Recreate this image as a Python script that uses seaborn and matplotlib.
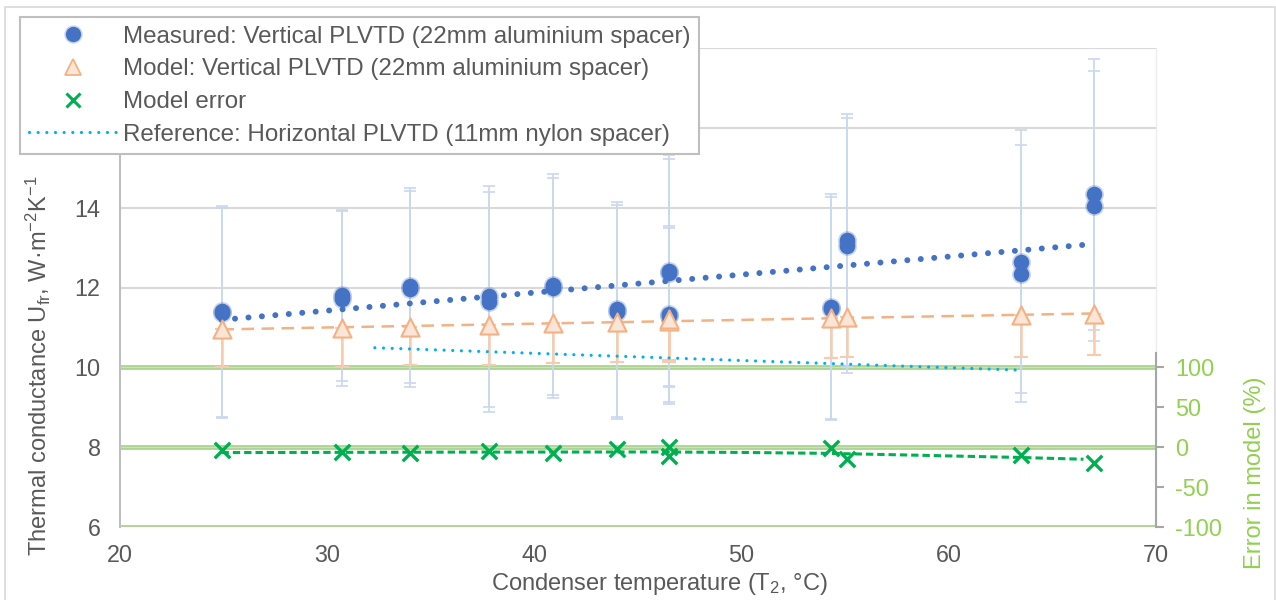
"""Thermal conductance vs condenser temperature, measured vs model, with model error on a second axis."""
import matplotlib
matplotlib.use('Agg')
import matplotlib.pyplot as plt
import pandas as pd
import seaborn as sns
from matplotlib.lines import Line2D
from matplotlib.patches import Rectangle

# Measured points (two or more repeats per temperature) and their error bars
meas_T = [24.9, 24.9, 30.7, 30.7, 34.0, 34.0, 37.8, 37.8, 40.9, 40.9, 44.0, 44.0,
          46.5, 46.5, 46.5, 46.5, 54.3, 54.3, 55.1, 55.1, 63.5, 63.5, 67.0, 67.0]
meas_U = [11.40, 11.36, 11.80, 11.72, 12.05, 11.96, 11.78, 11.64, 12.07, 11.99, 11.45, 11.38,
          12.42, 12.36, 11.33, 11.29, 11.52, 11.47, 13.18, 13.05, 12.65, 12.34, 14.33, 14.05]
meas_err = [2.65, 2.62, 2.15, 2.20, 2.45, 2.45, 2.77, 2.76, 2.77, 2.75, 2.70, 2.68,
            2.90, 2.86, 2.20, 2.20, 2.82, 2.80, 3.17, 3.20, 3.30, 3.22, 3.40, 3.38]

# Model points and their (lower only) error bars
model_T = [24.9, 30.7, 34.0, 37.8, 40.9, 44.0, 46.5, 46.5, 54.3, 55.1, 63.5, 67.0]
model_U = [10.95, 10.99, 11.02, 11.07, 11.10, 11.14, 11.16, 11.20, 11.24, 11.25, 11.30, 11.34]
model_err_low = [0.95, 0.99, 0.97, 1.00, 1.00, 1.01, 1.02, 1.02, 1.00, 1.00, 1.05, 1.02]
model_err_high = [0, 0, 0, 0, 0, 0, 0, 0, 0, 0, 0, 0]

# Model error (%)
err_T = [24.9, 30.7, 34.0, 37.8, 40.9, 44.0, 46.5, 46.5, 54.3, 55.1, 63.5, 67.0]
err_pct = [-3.75, -6.25, -8.0, -5.0, -8.0, -2.5, 0.4, -11.3, -1.7, -15.4, -10.0, -20.4]

# Trend lines
meas_trend_T = [24.9, 67.0]
meas_trend_U = [11.19, 13.09]
model_trend_T = [24.9, 67.0]
model_trend_U = [10.95, 11.35]
ref_T = [32.3, 63.4]
ref_U = [10.49, 9.93]
err_trend_T = [24.9, 36.0, 46.0, 50.0, 54.3, 58.0, 63.3, 66.5]
err_trend_pct = [-7.0, -6.4, -6.2, -6.8, -8.0, -10.0, -13.0, -15.3]

labels = ['Measured: Vertical PLVTD (22mm aluminium spacer)',
          'Model: Vertical PLVTD (22mm aluminium spacer)',
          'Model error',
          'Reference: Horizontal PLVTD (11mm nylon spacer)']

GREY = '#595959'
BLUE = '#4472c4'
HALO = (0.27, 0.45, 0.77, 0.3)
ORANGE = '#f4b183'
ORANGE_FILL = '#fbe5d6'
GREEN = '#00b050'
AXGREEN = '#92d050'
CYAN = '#00b0f0'


def main():
    sns.set_theme(style='white')
    plt.rcParams['font.family'] = ['Liberation Sans', 'DejaVu Sans']
    plt.rcParams['mathtext.fontset'] = 'custom'
    plt.rcParams['mathtext.rm'] = 'Liberation Sans'
    plt.rcParams['mathtext.it'] = 'Liberation Sans:italic'
    plt.rcParams['mathtext.bf'] = 'Liberation Sans:bold'
    plt.rcParams['axes.unicode_minus'] = False

    meas = pd.DataFrame({'T': meas_T, 'U': meas_U})
    model = pd.DataFrame({'T': model_T, 'U': model_U})
    err = pd.DataFrame({'T': err_T, 'pct': err_pct})

    fig = plt.figure(figsize=(12.76, 6), dpi=100)
    ax = fig.add_axes([120 / 1276, 1 - 527 / 600, 1036 / 1276, 479 / 600])

    ax.set_xlim(20, 70)
    ax.set_ylim(6, 18)
    ax.set_xticks(range(20, 71, 10))
    ax.set_yticks(range(6, 19, 2))
    ax.set_yticklabels(['6', '8', '10', '12', '14', '', ''])
    ax.grid(axis='y', color='#d9d9d9', lw=1.5, zorder=0)
    ax.set_axisbelow(True)
    for s in ['top', 'bottom']:
        ax.spines[s].set_visible(False)
    ax.spines['left'].set_color('#bfbfbf')
    ax.spines['left'].set_linewidth(1.5)
    ax.spines['right'].set_color('#ececec')
    ax.spines['right'].set_linewidth(1.0)
    ax.tick_params(axis='both', length=0, labelsize=16.8, labelcolor=GREY)
    ax.tick_params(axis='x', pad=12)
    ax.tick_params(axis='y', pad=14)

    # secondary-axis gridlines (-100, 0, 100 line up with 6, 8, 10)
    for v in [6, 8, 10]:
        ax.axhline(v, color='#a9d18e', lw=3.4, zorder=1)
        ax.axhline(v, color='#c9e4b1', lw=1.0, zorder=1)

    # error bars
    ax.errorbar(meas_T, meas_U, yerr=meas_err, fmt='none', ecolor='#c9d7f0',
                elinewidth=1.2, capsize=4.5, capthick=1.2, zorder=2)
    ax.errorbar(model_T, model_U, yerr=[model_err_low, model_err_high], fmt='none',
                ecolor='#f8cbad', elinewidth=1.8, capsize=5, capthick=1.5, zorder=2.5)

    # trend lines
    sns.lineplot(x=meas_trend_T, y=meas_trend_U, ax=ax, color=BLUE, lw=4.3,
                 linestyle=(0, (0.01, 2.25)), dash_capstyle='round', zorder=3)
    sns.lineplot(x=model_trend_T, y=model_trend_U, ax=ax, color=ORANGE, lw=1.8,
                 linestyle=(0, (5, 3)), zorder=3)
    sns.lineplot(x=ref_T, y=ref_U, ax=ax, color=CYAN, lw=2.3,
                 linestyle=(0, (0.01, 2.7)), dash_capstyle='round', zorder=3)

    # points
    sns.scatterplot(data=meas, x='T', y='U', ax=ax, s=125, color=BLUE,
                    edgecolor=HALO, linewidth=2.4, zorder=4)
    sns.scatterplot(data=model, x='T', y='U', ax=ax, marker='^', s=170,
                    color=ORANGE_FILL, edgecolor=ORANGE, linewidth=1.5, zorder=4)

    ax.set_xlabel(r'Condenser temperature (T$_{\mathregular{2}}$, °C)', fontsize=17, color=GREY)
    ax.set_ylabel(r'Thermal conductance U$_{\mathregular{fr}}$, W·m$^{\mathregular{-2}}$K$^{\mathregular{-1}}$',
                  fontsize=17, color=GREY)
    ax.xaxis.set_label_coords(0.521, -0.118)
    ax.xaxis.label.set_va('center')
    ax.yaxis.set_label_coords(-0.079, 0.336)
    ax.yaxis.label.set_va('center')

    # secondary axis: model error
    ax2 = ax.twinx()
    ax2.set_ylim(-100, 498.75)
    ax2.set_yticks([-100, -50, 0, 50, 100])
    ax2.grid(False)
    for s in ['top', 'bottom', 'left']:
        ax2.spines[s].set_visible(False)
    ax2.spines['right'].set_color('#a6a6a6')
    ax2.spines['right'].set_linewidth(1.5)
    ax2.spines['right'].set_bounds(-100, 117)
    ax2.tick_params(axis='y', length=6, width=1.5, color='#a6a6a6', labelsize=16.8,
                    labelcolor=AXGREEN, pad=8)

    sns.lineplot(x=err_trend_T, y=err_trend_pct, ax=ax2, color=GREEN, lw=2.2,
                 linestyle=(0, (2.4, 1.3)), sort=False, zorder=3)
    sns.scatterplot(data=err, x='T', y='pct', ax=ax2, marker='x', s=125,
                    color=GREEN, linewidth=2.4, zorder=4)
    ax2.set_ylabel('Error in model (%)', fontsize=17, color=AXGREEN, rotation=90)
    ax2.yaxis.set_label_coords(1.0955, 0.113)
    ax2.yaxis.label.set_va('center')

    # legend
    handles = [
        Line2D([], [], ls='none', marker='o', ms=11, mfc=BLUE, mec=HALO, mew=2.2),
        Line2D([], [], ls='none', marker='^', ms=12, mfc=ORANGE_FILL, mec=ORANGE, mew=1.3),
        Line2D([], [], ls='none', marker='x', ms=10.5, mec=GREEN, mew=2.2),
        Line2D([], [], color=CYAN, lw=2.3, ls=(0, (0.01, 2.7)), dash_capstyle='round'),
    ]
    leg = fig.legend(handles, labels, loc='upper left',
                     bbox_to_anchor=(20 / 1276, 1 - 17 / 600), bbox_transform=fig.transFigure,
                     frameon=True, fancybox=False, framealpha=1, edgecolor='#bfbfbf',
                     fontsize=17.4, handlelength=3.7, handletextpad=0.2, borderpad=0.36,
                     labelspacing=0.44, borderaxespad=0)
    leg.get_frame().set_linewidth(1.5)
    for t in leg.get_texts():
        t.set_color(GREY)

    # outer chart border
    fig.patches.append(Rectangle((5 / 1276, -0.1), 1270 / 1276, 1.088, transform=fig.transFigure,
                                 fill=False, ec='#d9d9d9', lw=1.2))

    fig.savefig('out.png', dpi=100)
    plt.close(fig)


if __name__ == '__main__':
    main()
